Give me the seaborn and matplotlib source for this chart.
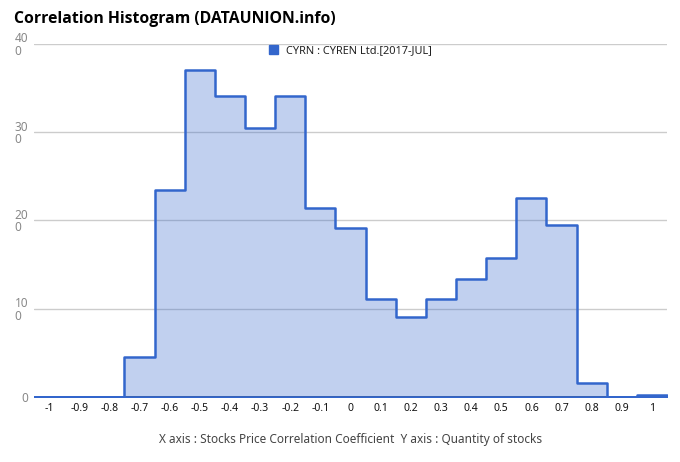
import numpy as np
import pandas as pd
import matplotlib
matplotlib.use("Agg")
import matplotlib.pyplot as plt
import seaborn as sns
from matplotlib.patches import Patch

# Data
centers = [-1.0, -0.9, -0.8, -0.7, -0.6, -0.5, -0.4, -0.3, -0.2, -0.1, 0.0,
           0.1, 0.2, 0.3, 0.4, 0.5, 0.6, 0.7, 0.8, 0.9, 1.0]
counts = [0, 0, 0, 45, 235, 370, 341, 305, 341, 214, 192,
          111, 91, 111, 134, 157, 226, 195, 16, 0, 2]
x_tick_labels = ["-1", "-0.9", "-0.8", "-0.7", "-0.6", "-0.5", "-0.4", "-0.3", "-0.2", "-0.1", "0",
                 "0.1", "0.2", "0.3", "0.4", "0.5", "0.6", "0.7", "0.8", "0.9", "1"]
y_ticks = [0, 100, 200, 300, 400]
y_tick_labels = ["0", "10\n0", "20\n0", "30\n0", "40\n0"]
series_name = "CYRN : CYREN Ltd.[2017-JUL]"
title = "Correlation Histogram (DATAUNION.info)"
xlabel = "X axis : Stocks Price Correlation Coefficient  Y axis : Quantity of stocks"

sns.set_theme(style="white")
plt.rcParams['font.family'] = ['Noto Sans', 'DejaVu Sans']

df = pd.DataFrame({"corr": centers, "count": counts})

fig = plt.figure(figsize=(6.8, 4.62), dpi=100)
ax = fig.add_axes([0.05, 0.1407, 0.931, 0.7641])

line_color = "#3366CC"
sns.histplot(data=df, x="corr", weights="count", binwidth=0.1, binrange=(-1.05, 1.05),
             element="step", fill=True, color=line_color, alpha=0.3, linewidth=1.8,
             edgecolor=line_color, ax=ax, zorder=3)

ax.set_xlim(-1.05, 1.05)
ax.set_ylim(0, 400)

# grid lines
for yv in y_ticks[1:]:
    ax.axhline(yv, color="#cccccc", linewidth=1, zorder=1)
ax.axhline(0, color="#333333", linewidth=1.2, zorder=2)

for s in ax.spines.values():
    s.set_visible(False)

ax.set_xticks(centers)
ax.set_xticklabels(x_tick_labels, fontsize=7.5, color="#111111", fontweight="medium")
ax.set_yticks(y_ticks)
ax.set_yticklabels(y_tick_labels, fontsize=8.5, color="#888888", linespacing=0.95)
for lab in ax.get_yticklabels():
    lab.set_multialignment('left')
ax.tick_params(axis='both', length=0)
ax.tick_params(axis='y', pad=4)
ax.tick_params(axis='x', pad=4)

ax.set_ylabel("")
ax.set_xlabel(xlabel, fontsize=8.5, color="#444444", labelpad=14)

fig.text(0.02, 0.958, title, fontsize=11.3, fontweight="bold", color="#000000",
         ha="left", va="center", family=["Open Sans", "DejaVu Sans"])

handle = Patch(facecolor=line_color, edgecolor=line_color)
ax.legend(handles=[handle], labels=[series_name], loc="upper center",
          bbox_to_anchor=(0.5, 1.012), frameon=False, fontsize=7.9,
          handlelength=0.8, handleheight=0.8, handletextpad=0.8,
          labelcolor="#222222", borderaxespad=0.1)

fig.savefig("out.png", dpi=100, facecolor="white")
